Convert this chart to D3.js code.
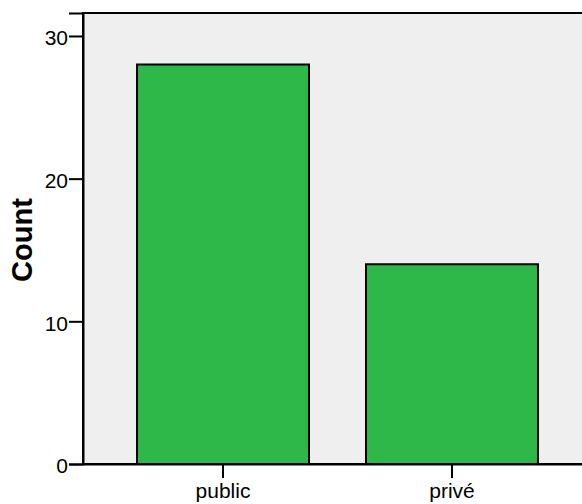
<!DOCTYPE html>
<html><head><meta charset="utf-8">
<script src="https://cdn.jsdelivr.net/npm/d3@7"></script>
<style>body{margin:0;background:#fff}svg{display:block}text{font-family:"Liberation Sans",Arial,sans-serif}</style>
</head><body>
<script>
const categories = ["public", "privé"];
const counts = [28, 14];
const yTicks = [0, 10, 20, 30];
const yTitle = "Count";

(function () {
const W = 582, H = 504;
const svg = d3.select("body").append("svg").attr("width", W).attr("height", H);
const pl = 83, pr = 592, pt = 13, pb = 464;

const x = d3.scaleBand().domain(categories).range([pl, pr]).paddingInner(0.249).paddingOuter(0.236);
const y = d3.scaleLinear().domain([0, 31.61]).range([pb, pt]);

svg.append("rect").attr("x", pl).attr("y", pt).attr("width", pr - pl).attr("height", pb - pt)
  .attr("fill", "#efefef").attr("stroke", "#000").attr("stroke-width", 2);

svg.selectAll("rect.bar").data(counts).join("rect").attr("class", "bar")
  .attr("x", (d, i) => x(categories[i])).attr("width", x.bandwidth())
  .attr("y", d => y(d)).attr("height", d => y(0) - y(d))
  .attr("fill", "#2fb84a").attr("stroke", "#000").attr("stroke-width", 2);

const yAxis = svg.append("g").attr("transform", `translate(${pl},0)`)
  .call(d3.axisLeft(y).tickValues(yTicks).tickFormat(d3.format("d")).tickSize(14).tickPadding(1));
yAxis.select(".domain").attr("stroke-width", 2);
yAxis.selectAll(".tick line").attr("stroke-width", 2);
yAxis.selectAll("text").attr("font-size", 21).attr("dy", "0.42em").attr("fill", "#000").attr("font-family", '"Liberation Sans",Arial,sans-serif');

const xAxis = svg.append("g").attr("transform", `translate(0,${pb})`)
  .call(d3.axisBottom(x).tickSize(14).tickPadding(5).tickSizeOuter(0));
xAxis.select(".domain").attr("stroke-width", 2);
xAxis.selectAll(".tick line").attr("stroke-width", 2);
xAxis.selectAll("text").attr("font-size", 21).attr("fill", "#000").attr("font-family", '"Liberation Sans",Arial,sans-serif');

svg.append("text").attr("transform", `translate(32,240) rotate(-90)`)
  .attr("text-anchor", "middle").attr("font-size", 29).attr("font-weight", "bold").text(yTitle);
})();
</script>
</body></html>
